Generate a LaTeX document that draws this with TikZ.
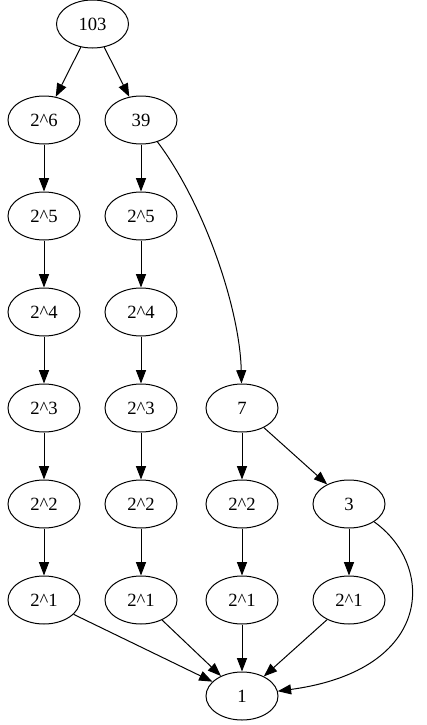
\documentclass[tikz,border=0pt]{standalone}
\usepackage{fontspec}
\setmainfont{Liberation Serif}
\usetikzlibrary{arrows.meta, shapes.geometric}
\newcommand{\pw}[1]{2\textasciicircum#1}

\begin{document}
\begin{tikzpicture}[
      x=0.75pt, y=-0.75pt,
      num/.style={ellipse, draw, line width=0.75pt, minimum width=54pt, minimum height=36pt,
                  inner sep=0pt, font=\fontsize{14pt}{16pt}\selectfont},
      arrow/.style={-{Triangle[length=10pt, width=7.5pt]}, line width=0.75pt}
    ]
    \useasboundingbox (0,0) rectangle (426,725);

    % Top of the tree
    \node[num] (n103) at (92.5,24)  {103};
    \node[num] (a6)   at (44,120)   {\pw{6}};
    \node[num] (b39)  at (141,120)  {39};

    % Left chain of powers
    \node[num] (a5) at (44,216) {\pw{5}};
    \node[num] (a4) at (44,312) {\pw{4}};
    \node[num] (a3) at (44,408) {\pw{3}};
    \node[num] (a2) at (44,504) {\pw{2}};
    \node[num] (a1) at (44,600) {\pw{1}};

    % Chain below 39
    \node[num] (b5) at (141,216) {\pw{5}};
    \node[num] (b4) at (141,312) {\pw{4}};
    \node[num] (b3) at (141,408) {\pw{3}};
    \node[num] (b2) at (141,504) {\pw{2}};
    \node[num] (b1) at (141,600) {\pw{1}};

    % Remainder 7 and 3
    \node[num] (c7) at (242,408) {7};
    \node[num] (c2) at (242,504) {\pw{2}};
    \node[num] (c1) at (242,600) {\pw{1}};
    \node[num] (d3) at (349,504) {3};
    \node[num] (d1) at (349,600) {\pw{1}};

    % Sink
    \node[num] (one) at (242,696) {1};

    % Edges
    \draw[arrow] (n103) -- (a6);
    \draw[arrow] (n103) -- (b39);
    \draw[arrow] (a6) -- (a5);
    \draw[arrow] (a5) -- (a4);
    \draw[arrow] (a4) -- (a3);
    \draw[arrow] (a3) -- (a2);
    \draw[arrow] (a2) -- (a1);
    \draw[arrow] (b39) -- (b5);
    \draw[arrow] (b5) -- (b4);
    \draw[arrow] (b4) -- (b3);
    \draw[arrow] (b3) -- (b2);
    \draw[arrow] (b2) -- (b1);
    \draw[arrow] (b39) .. controls (205,205) and (240,310) .. (c7);
    \draw[arrow] (c7) -- (c2);
    \draw[arrow] (c2) -- (c1);
    \draw[arrow] (c7) -- (d3);
    \draw[arrow] (d3) -- (d1);
    \draw[arrow] (a1) -- (one);
    \draw[arrow] (b1) -- (one);
    \draw[arrow] (c1) -- (one);
    \draw[arrow] (d1) -- (one);
    \draw[arrow] (d3) .. controls (435,565) and (435,670) .. (one);

  \end{tikzpicture}
\end{document}
